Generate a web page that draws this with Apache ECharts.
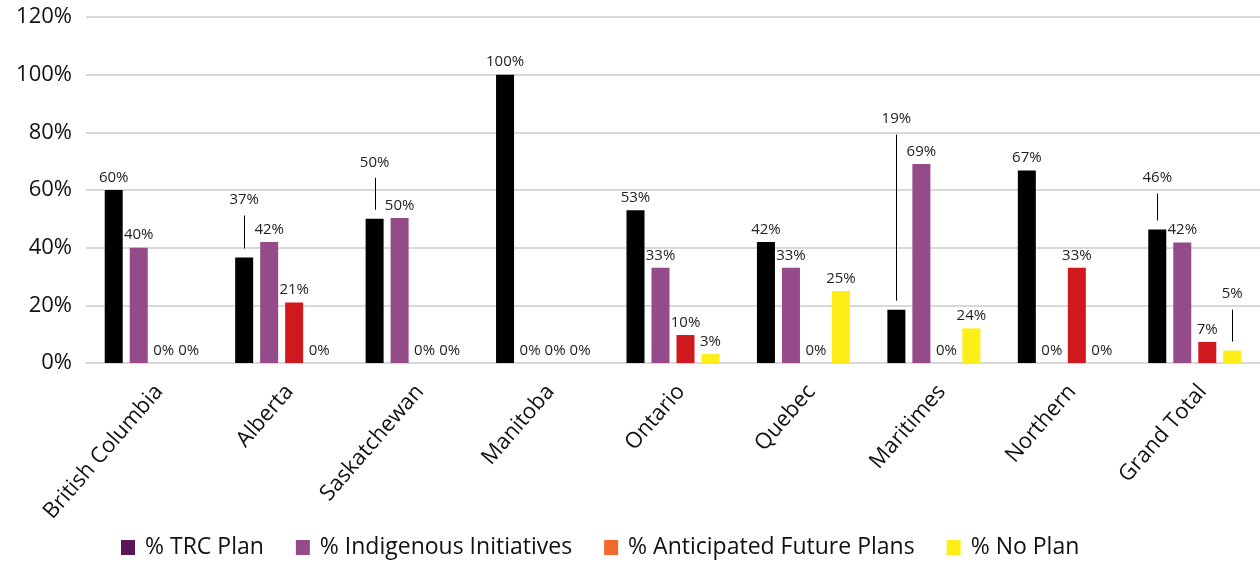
<!DOCTYPE html>
<html><head><meta charset="utf-8">
<script src="https://cdn.jsdelivr.net/npm/echarts@6/dist/echarts.min.js"></script>
<style>html,body{margin:0;padding:0;background:#fff}#c{width:1260px;height:564px}</style>
</head><body><div id="c"></div>
<script>
const categories = ['British Columbia','Alberta','Saskatchewan','Manitoba','Ontario','Quebec','Maritimes','Northern','Grand Total'];
const seriesNames = ['% TRC Plan','% Indigenous Initiatives','% Anticipated Future Plans','% No Plan'];
const trcPlan = [60, 36.6, 50, 100, 53, 42, 18.5, 66.8, 46.3];
const indigenous = [40, 42, 50.3, 0, 33, 33, 69, 0, 41.8];
const anticipated = [0, 21, 0, 0, 9.7, 0, 0, 33, 7.3];
const noPlan = [0, 0, 0, 0, 3.1, 25, 12, 0, 4.3];
const trcLabels = ['60%','37%','50%','100%','53%','42%','19%','67%','46%'];
const indLabels = ['40%','42%','50%','0%','33%','33%','69%','0%','42%'];
const antLabels = ['0%','21%','0%','0%','10%','0%','0%','33%','7%'];
const noLabels = ['0%','0%','0%','0%','3%','25%','24%','0%','5%'];
const yTicks = [0,20,40,60,80,100,120];
const barColors = ['#000000','#954b8a','#d0181f','#fdee18'];
const legendColors = ['#5a1657','#954b8a','#f26a2a','#fdee18'];
// labels lifted above their bar with a leader line: [series, category, lift px]
const lifted = [[0,1,45],[0,2,44],[0,6,178],[0,8,39],[3,8,44]];

const values = [trcPlan, indigenous, anticipated, noPlan];
const labels = [trcLabels, indLabels, antLabels, noLabels];
const FONT = 'Open Sans';
const BAR_W = 18, BAR_PITCH = 25;

function liftOf(si, di) {
  const f = lifted.find(l => l[0] === si && l[1] === di);
  return f ? f[2] : 0;
}

const chart = echarts.init(document.getElementById('c'), null, {renderer:'canvas'});
const series = values.map((vals, si) => ({
  name: seriesNames[si],
  type: 'bar',
  barWidth: BAR_W,
  barGap: ((BAR_PITCH - BAR_W) / BAR_W * 100).toFixed(1) + '%',
  itemStyle: {color: barColors[si]},
  data: vals.map((v, di) => ({
    value: v,
    label: {offset: [0, -liftOf(si, di)]}
  })),
  label: {
    show: true, position: 'top', distance: 5,
    fontFamily: FONT, fontSize: 15, color: '#222',
    formatter: p => labels[si][p.dataIndex]
  },
  emphasis: {disabled: true},
  animation: false
}));

series.push({
  type: 'custom',
  name: 'leaders',
  silent: true,
  animation: false,
  data: lifted.map(l => [l[1], values[l[0]][l[1]], l[0], l[2]]),
  renderItem: (params, api) => {
    const pt = api.coord([api.value(0), api.value(1)]);
    const bi = api.value(2), lift = api.value(3);
    const x = Math.round(pt[0] + (bi - 1.5) * BAR_PITCH) + 0.5;
    const y1 = pt[1] - 9;
    const y2 = pt[1] - 5 - lift + 8;
    return {type: 'line', shape: {x1: x, y1: y1, x2: x, y2: y2},
            style: {stroke: '#000', lineWidth: 1}};
  },
  z: 5
});

chart.setOption({
  animation: false,
  grid: {left: 86, width: 1182, top: 17, bottom: 201, containLabel: false},
  legend: {
    bottom: 0, left: 116, itemWidth: 14, itemHeight: 15, itemGap: 32,
    icon: 'rect',
    textStyle: {fontFamily: FONT, fontSize: 23, color: '#111', padding: [0,0,0,5]},
    data: seriesNames.map((n, i) => ({name: n, itemStyle: {color: legendColors[i]}}))
  },
  xAxis: {
    type: 'category', data: categories,
    axisLine: {show: true, lineStyle: {color: '#d9d9d9', width: 2}},
    axisTick: {show: false},
    axisLabel: {rotate: 49, fontFamily: FONT, fontSize: 22, color: '#111', margin: 34, padding: [0,-12,0,0], interval: 0},
  },
  yAxis: {
    type: 'value', min: 0, max: 120, interval: 20,
    axisLabel: {formatter: v => yTicks.includes(v) ? v + '%' : '', fontFamily: FONT, fontSize: 22, color: '#111', margin: 14},
    splitLine: {lineStyle: {color: '#d9d9d9', width: 2}},
    axisLine: {show: false}, axisTick: {show: false}
  },
  series: series
});
</script></body></html>
